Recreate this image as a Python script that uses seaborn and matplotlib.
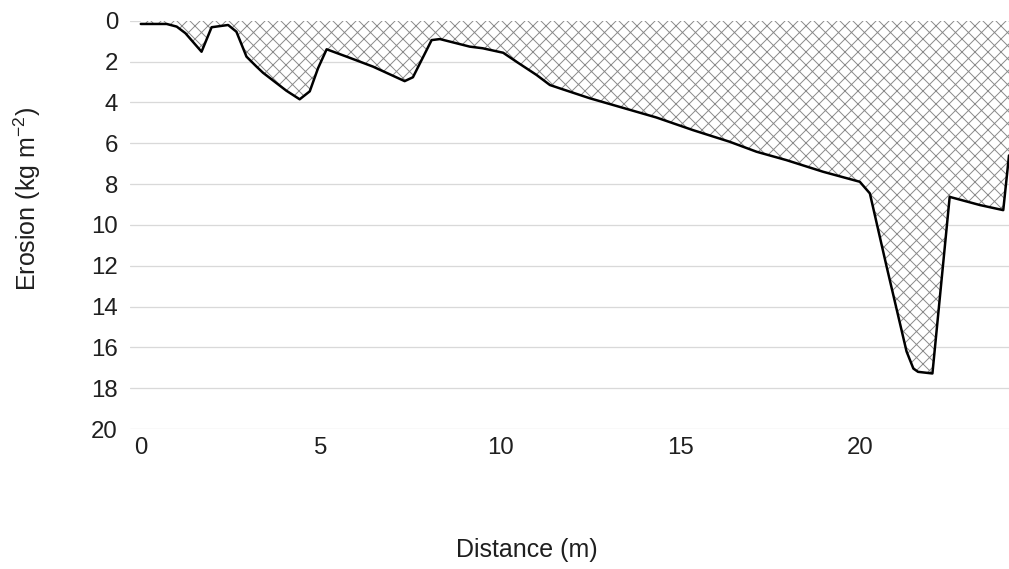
import matplotlib
matplotlib.use("Agg")
import matplotlib.pyplot as plt
import seaborn as sns
import pandas as pd

# Erosion profile along the transect
distance = [0.0, 0.72, 1.0, 1.24, 1.69, 1.97, 2.43, 2.66, 2.94, 3.22, 3.4, 4.05,
            4.42, 4.70, 4.93, 5.17, 5.77, 6.46, 7.34, 7.57, 8.09, 8.32, 9.15,
            9.51, 10.08, 10.45, 11.01, 11.38, 11.65, 12.49, 14.34, 15.36, 16.38,
            17.13, 17.96, 18.98, 20.0, 20.28, 20.74, 21.3, 21.49, 21.62, 22.02,
            22.5, 23.34, 23.99, 24.15]
erosion = [0.16, 0.16, 0.29, 0.61, 1.52, 0.32, 0.21, 0.54, 1.76, 2.25, 2.55, 3.43,
           3.85, 3.46, 2.33, 1.40, 1.79, 2.25, 2.96, 2.77, 0.95, 0.90, 1.27,
           1.35, 1.57, 2.01, 2.66, 3.15, 3.31, 3.80, 4.74, 5.36, 5.93,
           6.42, 6.83, 7.40, 7.89, 8.46, 12.0, 16.2, 17.04, 17.2, 17.28,
           8.63, 9.03, 9.28, 6.6]

y_ticks = list(range(0, 21, 2))
x_ticks = [0, 5, 10, 15, 20]

df = pd.DataFrame({"Distance": distance, "Erosion": erosion})

DPI = 78
sns.set_theme(style="white")
plt.rcParams["font.family"] = ["Liberation Sans", "DejaVu Sans"]
plt.rcParams["mathtext.default"] = "regular"
plt.rcParams["hatch.linewidth"] = 0.9
plt.rcParams["hatch.color"] = "#8a8a8a"

fig = plt.figure(figsize=(1009 / DPI, 569 / DPI), dpi=DPI)
ax = fig.add_axes([130 / 1009, 1 - 429 / 569, 879 / 1009, (429 - 20.7) / 569])

# Hatched eroded area between the surface (0) and the profile
ax.fill_between(df["Distance"], 0, df["Erosion"], facecolor="white",
                edgecolor="#8a8a8a", hatch="xx", linewidth=0, zorder=2)
sns.lineplot(data=df, x="Distance", y="Erosion", color="black",
             linewidth=2.3, ax=ax, zorder=3, sort=False)

ax.set_xlim(-0.3, 24.15)
ax.set_ylim(20, 0)
ax.set_yticks(y_ticks)
ax.set_xticks(x_ticks)
ax.grid(axis="y", color="#d9d9d9", linewidth=1.2, zorder=0)
ax.grid(axis="x", visible=False)
for s in ax.spines.values():
    s.set_visible(False)

tick_pt = 24 / DPI * 72
label_pt = 25 / DPI * 72
ax.tick_params(axis="both", length=0, labelsize=tick_pt, labelcolor="#1f1f1f")
ax.tick_params(axis="y", pad=12 / DPI * 72)
ax.tick_params(axis="x", pad=8 / DPI * 72)

ax.set_xlabel("Distance (m)", fontsize=label_pt, color="#1f1f1f")
ax.set_ylabel("Erosion (kg m$^{-2}$)", fontsize=label_pt, color="#1f1f1f")
ax.xaxis.set_label_coords((527 - 130) / 879, -(550 - 429) / 408.3)
ax.xaxis.label.set_va("center")
ax.yaxis.set_label_coords((27 - 130) / 879, (429 - 199) / 408.3)
ax.yaxis.label.set_va("center")

fig.savefig("out.png", dpi=DPI, facecolor="white")
